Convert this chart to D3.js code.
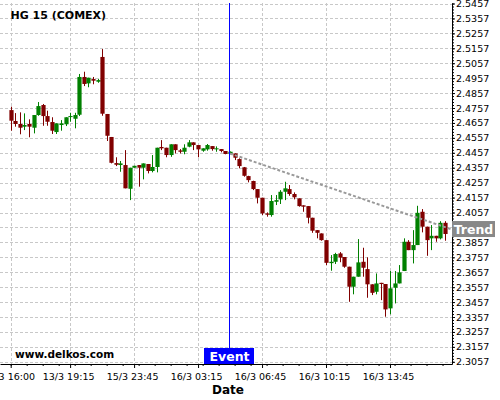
<!DOCTYPE html>
<html>
<head>
<meta charset="utf-8">
<script src="https://cdn.jsdelivr.net/npm/d3@7"></script>
<style>
    body { margin: 0; background: #fff; }
    svg { display: block; font-family: "DejaVu Sans", sans-serif; }
</style>
</head>
<body>
<div id="chart"></div>
<script>
// 15 minute candles, HG 15 (COMEX)
const openP = [2.4743, 2.4670, 2.4650, 2.4632, 2.4650, 2.4625, 2.4710, 2.4777, 2.4703, 2.4663,
    2.4596, 2.4643, 2.4648, 2.4697, 2.4685, 2.4712, 2.4965, 2.4922, 2.4951, 2.4933,
    2.5099, 2.4717, 2.4563, 2.4388, 2.4375, 2.4375, 2.4216, 2.4357, 2.4375, 2.4357,
    2.4382, 2.4335, 2.4362, 2.4496, 2.4491, 2.4442, 2.4514, 2.4473, 2.4464, 2.4498,
    2.4527, 2.4509, 2.4471, 2.4480, 2.4502, 2.4480, 2.4482, 2.4469, 2.4449, 2.4453,
    2.4415, 2.4360, 2.4301, 2.4268, 2.4214, 2.4156, 2.4051, 2.4040, 2.4129, 2.4145,
    2.4196, 2.4214, 2.4181, 2.4152, 2.4105, 2.4100, 2.4022, 2.3939, 2.3917, 2.3872,
    2.3718, 2.3727, 2.3783, 2.3759, 2.3694, 2.3560, 2.3627, 2.3727, 2.3678, 2.3576,
    2.3526, 2.3586, 2.3578, 2.3415, 2.3553, 2.3582, 2.3665, 2.3861, 2.3805, 2.3839,
    2.4062, 2.3962, 2.3884, 2.3901, 2.3884, 2.3988];
const highP = [2.4766, 2.4723, 2.4728, 2.4721, 2.4681, 2.4710, 2.4797, 2.4784, 2.4739, 2.4695,
    2.4654, 2.4676, 2.4695, 2.4725, 2.4725, 2.4985, 2.5000, 2.4960, 2.4965, 2.4953,
    2.5152, 2.4717, 2.4563, 2.4427, 2.4402, 2.4475, 2.4357, 2.4370, 2.4375, 2.4386,
    2.4382, 2.4442, 2.4491, 2.4542, 2.4491, 2.4514, 2.4514, 2.4482, 2.4514, 2.4542,
    2.4527, 2.4509, 2.4487, 2.4516, 2.4502, 2.4500, 2.4482, 2.4469, 2.4466, 2.4453,
    2.4420, 2.4362, 2.4303, 2.4270, 2.4214, 2.4156, 2.4058, 2.4174, 2.4174, 2.4207,
    2.4263, 2.4241, 2.4192, 2.4152, 2.4105, 2.4100, 2.4022, 2.3939, 2.3917, 2.3872,
    2.3772, 2.3787, 2.3792, 2.3759, 2.3694, 2.3627, 2.3879, 2.3821, 2.3757, 2.3576,
    2.3649, 2.3586, 2.3578, 2.3665, 2.3665, 2.3705, 2.3884, 2.3872, 2.3939, 2.4102,
    2.4080, 2.3962, 2.3973, 2.3901, 2.3999, 2.3999];
const lowP = [2.4605, 2.4632, 2.4581, 2.4609, 2.4561, 2.4587, 2.4705, 2.4638, 2.4638, 2.4583,
    2.4583, 2.4605, 2.4636, 2.4665, 2.4621, 2.4703, 2.4904, 2.4896, 2.4916, 2.4926,
    2.4705, 2.4536, 2.4386, 2.4368, 2.4330, 2.4219, 2.4140, 2.4357, 2.4230, 2.4279,
    2.4319, 2.4326, 2.4326, 2.4475, 2.4427, 2.4430, 2.4453, 2.4453, 2.4447, 2.4494,
    2.4475, 2.4427, 2.4464, 2.4471, 2.4471, 2.4464, 2.4460, 2.4447, 2.4447, 2.4408,
    2.4353, 2.4297, 2.4259, 2.4207, 2.4118, 2.4040, 2.4029, 2.4029, 2.4107, 2.4114,
    2.4140, 2.4169, 2.4145, 2.4096, 2.4062, 2.3984, 2.3921, 2.3884, 2.3868, 2.3705,
    2.3667, 2.3712, 2.3724, 2.3687, 2.3459, 2.3509, 2.3627, 2.3627, 2.3486, 2.3504,
    2.3509, 2.3470, 2.3359, 2.3375, 2.3448, 2.3582, 2.3665, 2.3805, 2.3716, 2.3839,
    2.3924, 2.3767, 2.3805, 2.3861, 2.3877, 2.3868];
const closeP = [2.4672, 2.4650, 2.4625, 2.4643, 2.4632, 2.4710, 2.4770, 2.4703, 2.4665, 2.4605,
    2.4654, 2.4654, 2.4695, 2.4703, 2.4710, 2.4965, 2.4918, 2.4960, 2.4940, 2.4944,
    2.4719, 2.4571, 2.4390, 2.4377, 2.4386, 2.4219, 2.4357, 2.4370, 2.4357, 2.4386,
    2.4335, 2.4362, 2.4491, 2.4487, 2.4442, 2.4514, 2.4475, 2.4464, 2.4491, 2.4527,
    2.4509, 2.4480, 2.4487, 2.4509, 2.4482, 2.4487, 2.4469, 2.4449, 2.4464, 2.4424,
    2.4368, 2.4303, 2.4274, 2.4214, 2.4156, 2.4051, 2.4042, 2.4134, 2.4140, 2.4196,
    2.4219, 2.4181, 2.4159, 2.4100, 2.4096, 2.4022, 2.3935, 2.3921, 2.3872, 2.3720,
    2.3727, 2.3779, 2.3755, 2.3694, 2.3560, 2.3627, 2.3723, 2.3687, 2.3576, 2.3519,
    2.3582, 2.3578, 2.3408, 2.3549, 2.3582, 2.3656, 2.3861, 2.3805, 2.3839, 2.4055,
    2.3962, 2.3872, 2.3901, 2.3884, 2.3988, 2.3913];

// x axis: bar index of labelled ticks
const xTickIdx = [0, 13, 27, 41, 55, 69, 83];
const xTickLabels = ["13/3 16:00", "13/3 19:15", "15/3 23:45", "16/3 03:15", "16/3 06:45", "16/3 10:15", "16/3 13:45"];
const yTicks = [2.3057, 2.3157, 2.3257, 2.3357, 2.3457, 2.3557, 2.3657, 2.3757, 2.3857, 2.3957,
    2.4057, 2.4157, 2.4257, 2.4357, 2.4457, 2.4557, 2.4657, 2.4757, 2.4857, 2.4957,
    2.5057, 2.5157, 2.5257, 2.5357, 2.5457];

// event + trend
const eventIdx = 48;
const trendIdx = [48, 96.57];
const trendVal = [2.4452, 2.3943];

const width = 500, height = 400;
const plot = {left: 0, right: 452, top: 3, bottom: 364};

const svg = d3.select("#chart").append("svg")
    .attr("width", width)
    .attr("height", height);

const x = d3.scaleLinear().domain([-2.34, 96.57]).range([plot.left, plot.right]);
const y = d3.scaleLinear().domain([2.30423, 2.54604]).range([plot.bottom, plot.top]);

//grid
const grid = svg.append("g").attr("stroke", "#c8c8c8").attr("stroke-dasharray", "3,2");
grid.selectAll(".hg").data(yTicks).enter().append("line")
    .attr("x1", plot.left).attr("x2", plot.right)
    .attr("y1", d => Math.round(y(d)) + 0.5).attr("y2", d => Math.round(y(d)) + 0.5);
grid.selectAll(".vg").data(xTickIdx).enter().append("line")
    .attr("y1", plot.top).attr("y2", plot.bottom)
    .attr("x1", d => Math.round(x(d)) + 0.5).attr("x2", d => Math.round(x(d)) + 0.5);

//candles
const candles = d3.range(openP.length).map(i => ({
    i: i, o: openP[i], h: highP[i], l: lowP[i], c: closeP[i]
}));
const colorOf = d => d.c >= d.o ? "#008000" : "#800000";
const bodyW = 4.2;

svg.append("g").selectAll("line")
    .data(candles)
    .enter()
    .append("line")
    .attr("x1", d => Math.round(x(d.i)) + 0.5)
    .attr("x2", d => Math.round(x(d.i)) + 0.5)
    .attr("y1", d => y(d.h))
    .attr("y2", d => y(d.l))
    .attr("stroke", colorOf);

svg.append("g").selectAll("rect")
    .data(candles)
    .enter()
    .append("rect")
    .attr("x", d => Math.round(x(d.i)) + 0.5 - bodyW / 2)
    .attr("y", d => y(Math.max(d.o, d.c)))
    .attr("width", bodyW)
    .attr("height", d => Math.max(1, Math.abs(y(d.o) - y(d.c))))
    .attr("fill", colorOf);

//trend line
svg.append("line")
    .attr("x1", x(trendIdx[0])).attr("y1", y(trendVal[0]))
    .attr("x2", x(trendIdx[1])).attr("y2", y(trendVal[1]))
    .attr("stroke", "#999999")
    .attr("stroke-width", 2)
    .attr("stroke-dasharray", "3,2");

//event line
const ex = Math.round(x(eventIdx)) - 0.5;
svg.append("line")
    .attr("x1", ex).attr("x2", ex)
    .attr("y1", plot.top).attr("y2", 348)
    .attr("stroke", "#0000ff");

//axes
const xAxis = d3.axisBottom(x)
    .tickValues(xTickIdx)
    .tickFormat((d, i) => xTickLabels[i])
    .tickSize(4)
    .tickSizeOuter(0)
    .tickPadding(5);
const xAxisG = svg.append("g")
    .attr("transform", `translate(0,${plot.bottom})`)
    .call(xAxis);
xAxisG.selectAll("text").attr("dx", -2);

svg.append("g")
    .attr("transform", `translate(0,${plot.bottom})`)
    .call(d3.axisBottom(x).tickValues(d3.range(0, 97, 3.5)).tickFormat("").tickSize(2).tickSizeOuter(0))
    .select(".domain").remove();

const yAxis = d3.axisRight(y)
    .tickValues(yTicks)
    .tickFormat(d3.format(".4f"))
    .tickSize(3)
    .tickSizeOuter(0)
    .tickPadding(1);
svg.append("g")
    .attr("transform", `translate(${plot.right},0)`)
    .call(yAxis);

svg.append("g")
    .attr("transform", `translate(${plot.right},0)`)
    .call(d3.axisRight(y).tickValues(d3.range(2.3057, 2.5457, 0.002)).tickFormat("").tickSize(2).tickSizeOuter(0))
    .select(".domain").remove();

svg.selectAll(".tick text")
    .attr("fill", "#000")
    .style("font-family", "DejaVu Sans")
    .style("font-size", "9.5px");
svg.selectAll(".domain").attr("stroke", "#000");

//labels
svg.append("text")
    .attr("x", 10.5).attr("y", 19.3)
    .attr("font-size", "11px").attr("font-weight", "bold")
    .text("HG 15 (COMEX)");

svg.append("text")
    .attr("x", 15).attr("y", 357.5)
    .attr("font-size", "10.5px").attr("font-weight", "bold")
    .text("www.delkos.com");

svg.append("text")
    .attr("x", 228).attr("y", 394)
    .attr("text-anchor", "middle")
    .attr("font-size", "12px").attr("font-weight", "bold")
    .text("Date");

//event box
svg.append("rect")
    .attr("x", ex - 25.5).attr("y", 348)
    .attr("width", 50).attr("height", 16)
    .attr("fill", "#0000ff");
svg.append("text")
    .attr("x", ex).attr("y", 360.5)
    .attr("text-anchor", "middle")
    .attr("fill", "#fff")
    .attr("font-size", "12.5px").attr("font-weight", "bold")
    .text("Event");

//trend box
const ty = y(trendVal[1]);
svg.append("rect")
    .attr("x", plot.right).attr("y", ty - 8.5)
    .attr("width", 43).attr("height", 16)
    .attr("fill", "#888888");
svg.append("text")
    .attr("x", plot.right + 21.5).attr("y", ty + 4)
    .attr("text-anchor", "middle")
    .attr("fill", "#fff")
    .attr("font-size", "12.5px").attr("font-weight", "bold")
    .text("Trend");
</script>
</body>
</html>
